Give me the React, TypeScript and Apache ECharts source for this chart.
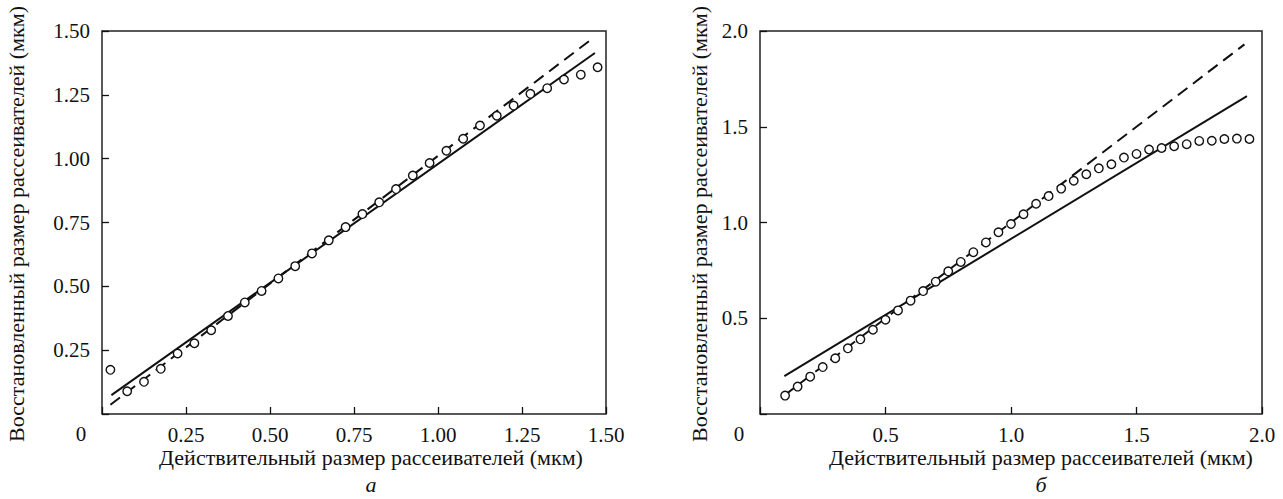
import React, { useEffect, useRef } from "react";
import * as echarts from "echarts";

// ---- data ----
const leftX = [0.025, 0.075, 0.125, 0.175, 0.225, 0.275, 0.325, 0.375, 0.425, 0.475, 0.525, 0.575, 0.625, 0.675, 0.725, 0.775, 0.825, 0.875, 0.925, 0.975, 1.025, 1.075, 1.125, 1.175, 1.225, 1.275, 1.325, 1.375, 1.425, 1.475];
const leftY = [0.173, 0.089, 0.126, 0.177, 0.237, 0.277, 0.328, 0.384, 0.437, 0.482, 0.531, 0.579, 0.629, 0.680, 0.732, 0.783, 0.829, 0.881, 0.934, 0.983, 1.031, 1.078, 1.130, 1.168, 1.208, 1.254, 1.276, 1.310, 1.329, 1.358];
const leftSolid = [[0.028, 0.074], [1.467, 1.414]];
const leftDashed = [[0.025, 0.036], [1.45, 1.461]];

const rightX = [0.10, 0.15, 0.20, 0.25, 0.30, 0.35, 0.40, 0.45, 0.50, 0.55, 0.60, 0.65, 0.70, 0.75, 0.80, 0.85, 0.90, 0.95, 1.00, 1.05, 1.10, 1.15, 1.20, 1.25, 1.30, 1.35, 1.40, 1.45, 1.50, 1.55, 1.60, 1.65, 1.70, 1.75, 1.80, 1.85, 1.90, 1.95];
const rightY = [0.096, 0.143, 0.195, 0.245, 0.291, 0.343, 0.390, 0.440, 0.492, 0.541, 0.592, 0.642, 0.691, 0.745, 0.794, 0.845, 0.896, 0.949, 0.992, 1.043, 1.098, 1.138, 1.177, 1.218, 1.252, 1.283, 1.304, 1.339, 1.358, 1.381, 1.389, 1.398, 1.409, 1.426, 1.427, 1.436, 1.438, 1.436];
const rightSolid = [[0.097, 0.198], [1.94, 1.66]];
const rightDashed = [[0.10, 0.10], [1.93, 1.93]];

const leftTicks = { min: 0, max: 1.5, interval: 0.25, digits: 2 };
const rightTicks = { min: 0, max: 2, interval: 0.5, digits: 1 };

const yTitle = "Восстановленный размер рассеивателей (мкм)";
const xTitle = "Действительный размер рассеивателей (мкм)";
const captions = ["а", "б"];

const FONT = "Liberation Serif";
const FS = 21;
const FT = 22;
const INK = "#111";

export default function App() {
  const ref = useRef<HTMLDivElement>(null);
  useEffect(() => {
    if (!ref.current) return;
    const chart = echarts.init(ref.current, null, { renderer: "svg" });

    const grids = [
      { left: 102, top: 31, width: 504, height: 383 },
      { left: 760, top: 31, width: 502, height: 383 },
    ];
    const titleCenters = [371, 1041];
    const yTitleX = [16, 699];
    const ticks = [leftTicks, rightTicks];

    const mkAxis = (i: number, t: any, dim: "x" | "y") => ({
      type: "value",
      gridIndex: i,
      min: t.min,
      max: t.max,
      interval: t.interval,
      axisLine: { show: false },
      axisTick: { show: true, inside: true, length: 7, lineStyle: { color: INK, width: 1.3 } },
      splitLine: { show: false },
      axisLabel: {
        show: true,
        margin: dim === "x" ? 10 : 12,
        color: INK,
        fontFamily: FONT,
        fontSize: FS,
        formatter: (v: number) => (v === 0 ? "" : v.toFixed(t.digits)),
      },
    });

    const scatterData = (xs: number[], ys: number[]) => xs.map((x, k) => [x, ys[k]]);

    const lineSeries = (i: number, data: number[][], dashed: boolean) => ({
      type: "line",
      xAxisIndex: i,
      yAxisIndex: i,
      data,
      showSymbol: false,
      symbol: "none",
      z: 2,
      lineStyle: { color: INK, width: 2, type: dashed ? [12, 7] : "solid" },
    });

    const scatterSeries = (i: number, xs: number[], ys: number[]) => ({
      type: "scatter",
      xAxisIndex: i,
      yAxisIndex: i,
      data: scatterData(xs, ys),
      symbol: "circle",
      symbolSize: 8.5,
      z: 3,
      itemStyle: { color: "#fff", borderColor: INK, borderWidth: 1.4, opacity: 1 },
    });

    const txt = (text: string, x: number, y: number, size: number, opts: any = {}) => ({
      type: "text",
      x,
      y,
      rotation: opts.rotation || 0,
      style: {
        text,
        fill: INK,
        font: `${opts.italic ? "italic " : ""}${size}px ${FONT}`,
        align: "center",
        verticalAlign: "middle",
        textAlign: "center",
        textVerticalAlign: "middle",
      },
    });

    const graphic: any[] = [];
    grids.forEach((g, i) => {
      graphic.push(txt("0", g.left - 21, 434, FS));
      graphic.push(txt(xTitle, titleCenters[i], 457, FT));
      graphic.push(txt(captions[i], titleCenters[i], 484, FT, { italic: true }));
      graphic.push(txt(yTitle, yTitleX[i], 224, FT, { rotation: Math.PI / 2 }));
    });

    chart.setOption({
      animation: false,
      backgroundColor: "#fff",
      grid: grids.map((g) => ({ ...g, show: true, borderColor: "#222", borderWidth: 1.5, backgroundColor: "transparent" })),
      xAxis: ticks.map((t, i) => mkAxis(i, t, "x")),
      yAxis: ticks.map((t, i) => mkAxis(i, t, "y")),
      series: [
        lineSeries(0, leftSolid, false),
        lineSeries(0, leftDashed, true),
        scatterSeries(0, leftX, leftY),
        lineSeries(1, rightSolid, false),
        lineSeries(1, rightDashed, true),
        scatterSeries(1, rightX, rightY),
      ],
      graphic,
    });
    return () => chart.dispose();
  }, []);
  return (
    <div
      ref={ref}
      style={{ position: "absolute", left: 0, top: 0, width: 1283, height: 499 }}
    />
  );
}
